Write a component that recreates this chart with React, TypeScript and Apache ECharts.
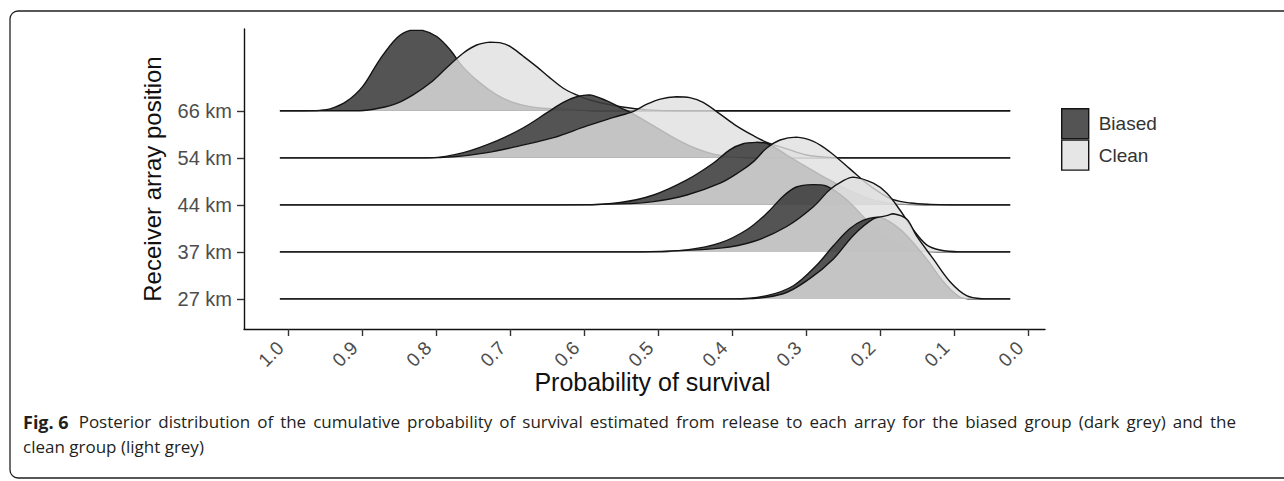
import React, { useEffect, useRef } from "react";
import * as echarts from "echarts";

// Rows (bottom to top) and groups
const rowNames = ["27 km", "37 km", "44 km", "54 km", "66 km"];
const groupNames = ["Biased", "Clean"];
const xTicks = [0.0, 0.1, 0.2, 0.3, 0.4, 0.5, 0.6, 0.7, 0.8, 0.9, 1.0];
const yTicks = [1, 2, 3, 4, 5];
const xAxisTitle = "Probability of survival";
const yAxisTitle = "Receiver array position";

// common density range (baseline line extent)
const lineStart = 1.011;
const lineEnd = 0.024;

// [probability of survival, scaled density]
const biased27 = [[0.399, 0], [0.353, 0.07], [0.317, 0.28], [0.286, 0.71], [0.263, 1.13], [0.241, 1.49], [0.223, 1.67], [0.204, 1.74], [0.196, 1.72], [0.18, 1.57], [0.164, 1.35], [0.137, 0.85], [0.114, 0.36], [0.092, 0.04], [0.072, 0]];
const clean27 = [[0.385, 0], [0.331, 0.11], [0.295, 0.43], [0.263, 0.85], [0.236, 1.35], [0.209, 1.7], [0.191, 1.77], [0.182, 1.81], [0.164, 1.7], [0.151, 1.35], [0.128, 0.85], [0.105, 0.36], [0.083, 0.07], [0.06, 0]];

const biased37 = [[0.507, 0], [0.461, 0.04], [0.416, 0.19], [0.38, 0.47], [0.353, 0.82], [0.331, 1.18], [0.313, 1.38], [0.29, 1.43], [0.272, 1.4], [0.245, 1.11], [0.218, 0.68], [0.191, 0.33], [0.164, 0.08], [0.137, 0.01], [0.112, 0]];
const clean37 = [[0.524, 0], [0.497, 0.01], [0.416, 0.08], [0.371, 0.22], [0.326, 0.54], [0.29, 0.96], [0.268, 1.32], [0.25, 1.51], [0.236, 1.59], [0.209, 1.46], [0.191, 1.25], [0.173, 0.89], [0.155, 0.47], [0.137, 0.15], [0.119, 0.04], [0.092, 0]];

const biased44 = [[0.605, 0], [0.551, 0.05], [0.506, 0.21], [0.461, 0.53], [0.425, 0.89], [0.403, 1.17], [0.385, 1.3], [0.367, 1.33], [0.353, 1.31], [0.326, 1.06], [0.304, 0.85], [0.281, 0.64], [0.261, 0.47], [0.241, 0.3], [0.218, 0.15], [0.191, 0.04], [0.166, 0.01], [0.139, 0]];
const clean44 = [[0.632, 0], [0.551, 0.02], [0.506, 0.07], [0.461, 0.21], [0.416, 0.46], [0.389, 0.71], [0.371, 0.92], [0.353, 1.21], [0.335, 1.38], [0.313, 1.44], [0.29, 1.35], [0.268, 1.13], [0.241, 0.77], [0.219, 0.47], [0.2, 0.26], [0.182, 0.11], [0.159, 0.04], [0.132, 0.01], [0.105, 0]];

const biased54 = [[0.808, 0], [0.763, 0.11], [0.718, 0.36], [0.682, 0.64], [0.65, 0.96], [0.628, 1.18], [0.61, 1.3], [0.592, 1.34], [0.569, 1.21], [0.551, 1.07], [0.533, 0.93], [0.506, 0.68], [0.479, 0.43], [0.452, 0.22], [0.425, 0.08], [0.398, 0.02], [0.362, 0]];
const clean54 = [[0.822, 0], [0.777, 0.02], [0.731, 0.11], [0.686, 0.26], [0.641, 0.43], [0.596, 0.68], [0.56, 0.86], [0.533, 0.99], [0.515, 1.14], [0.497, 1.25], [0.475, 1.3], [0.457, 1.28], [0.439, 1.18], [0.416, 0.93], [0.394, 0.68], [0.371, 0.47], [0.353, 0.33], [0.326, 0.19], [0.299, 0.06], [0.268, 0.01], [0.241, 0]];

const biased66 = [[0.985, 0], [0.957, 0.01], [0.943, 0.04], [0.921, 0.2], [0.899, 0.52], [0.876, 1.09], [0.853, 1.55], [0.835, 1.71], [0.818, 1.71], [0.799, 1.58], [0.781, 1.3], [0.764, 0.94], [0.741, 0.6], [0.718, 0.34], [0.696, 0.18], [0.673, 0.09], [0.65, 0.05], [0.628, 0.04], [0.582, 0]];
const clean66 = [[0.903, 0], [0.876, 0.06], [0.853, 0.16], [0.831, 0.34], [0.808, 0.59], [0.786, 0.91], [0.763, 1.23], [0.745, 1.4], [0.727, 1.46], [0.714, 1.45], [0.7, 1.37], [0.682, 1.16], [0.664, 0.94], [0.646, 0.7], [0.628, 0.48], [0.61, 0.34], [0.592, 0.23], [0.565, 0.13], [0.538, 0.06], [0.515, 0.02], [0.47, 0]];

const biasedRidges = [biased27, biased37, biased44, biased54, biased66];
const cleanRidges = [clean27, clean37, clean44, clean54, clean66];

const captionBold = "Fig. 6";
const captionLine1 =
  "Posterior distribution of the cumulative probability of survival estimated from release to each array for the biased group (dark grey) and the";
const captionLine2 = "clean group (light grey)";

const groupFills = ["rgba(60,60,60,0.88)", "rgba(224,224,224,0.8)"];
const outlineColor = "#141414";
const captionFont = "'Open Sans', 'Noto Sans', sans-serif";
const captionColor = "#231f20";
const captionSize = 17;
const captionBoldSize = 18;

function makeRenderItem(ridges: number[][][], gi: number) {
  return (params: any, api: any) => {
    const r = params.dataIndex;
    const base = r + 1;
    const raw = [[lineStart, 0], ...ridges[r], [lineEnd, 0]];
    const pts = raw.map((p) => api.coord([p[0], base + p[1]]));
    const order = (rowNames.length - 1 - r) * 4 + gi * 2;
    const constraint = [pts[0], pts[0]];
    return {
      type: "group",
      children: [
        {
          type: "polygon",
          z2: order,
          shape: { points: pts, smooth: 0.35, smoothConstraint: constraint },
          style: { fill: groupFills[gi], stroke: "none" },
        },
        {
          type: "polyline",
          z2: order + 1,
          shape: { points: pts, smooth: 0.35, smoothConstraint: constraint },
          style: { fill: "none", stroke: outlineColor, lineWidth: 1.4 },
        },
      ],
    };
  };
}

// justified first caption line (word positions computed from measured widths)
function justifiedCaption(x0: number, x1: number, y: number) {
  const canvas = document.createElement("canvas");
  const ctx = canvas.getContext("2d") as CanvasRenderingContext2D;
  const pieces: { text: string; bold: boolean }[] = [
    { text: captionBold, bold: true },
    ...captionLine1.split(" ").map((w) => ({ text: w, bold: false })),
  ];
  const widths = pieces.map((p) => {
    ctx.font = `${p.bold ? "bold " + captionBoldSize : captionSize}px ${captionFont}`;
    return ctx.measureText(p.text).width;
  });
  const total = widths.reduce((a, b) => a + b, 0);
  const gap = Math.max(3, (x1 - x0 - total) / (pieces.length - 1));
  let x = x0;
  return pieces.map((p, i) => {
    const el = {
      type: "text",
      x,
      y,
      silent: true,
      style: {
        text: p.text,
        fontFamily: captionFont,
        fontSize: p.bold ? captionBoldSize : captionSize,
        fontWeight: p.bold ? "bold" : "normal",
        fill: captionColor,
        textVerticalAlign: "middle",
        textAlign: "left",
      },
    };
    x += widths[i] + gap + (i === 0 ? 3 : 0);
    return el;
  });
}

export default function App() {
  const ref = useRef<HTMLDivElement>(null);

  useEffect(() => {
    if (!ref.current) return;
    const chart = echarts.init(ref.current, undefined, { renderer: "svg" });
    const labelFont = "'Liberation Sans', Arial, Helvetica, sans-serif";

    const option: any = {
      animation: false,
      backgroundColor: "#ffffff",
      grid: {
        left: 244,
        top: 29,
        width: 801,
        height: 300,
        containLabel: false,
        outerBoundsMode: "none",
      },
      legend: {
        orient: "vertical",
        left: 1061,
        top: 108,
        padding: 0,
        itemWidth: 27,
        itemHeight: 30,
        itemGap: 0,
        selectedMode: false,
        textStyle: { fontSize: 19, color: "#333333", fontFamily: labelFont, padding: [0, 0, 0, 5] },
        data: groupNames.map((n, i) => ({
          name: n,
          icon: "rect",
          itemStyle: { color: groupFills[i], borderColor: outlineColor, borderWidth: 1.4 },
        })),
      },
      xAxis: {
        type: "value",
        inverse: true,
        min: -0.023,
        max: 1.0595,
        name: xAxisTitle,
        nameLocation: "middle",
        nameGap: 40,
        nameMoveOverlap: false,
        nameTextStyle: {
          fontSize: 25,
          color: "#111111",
          fontFamily: labelFont,
          padding: [0, 0, 0, 16],
        },
        axisLine: { show: true, onZero: false, lineStyle: { color: "#111111", width: 1.4 } },
        axisTick: {
          show: true,
          length: 7,
          customValues: xTicks,
          lineStyle: { color: "#333333", width: 1.4 },
        },
        axisLabel: {
          customValues: xTicks,
          rotate: 45,
          margin: 8,
          padding: [0, 11, 0, 0],
          fontSize: 19,
          color: "#4d4d4d",
          fontFamily: labelFont,
          formatter: (v: number) => v.toFixed(1),
        },
        splitLine: { show: false },
      },
      yAxis: {
        type: "value",
        min: 0.36,
        max: 6.74,
        name: yAxisTitle,
        nameLocation: "middle",
        nameGap: 80,
        nameMoveOverlap: false,
        nameTextStyle: { fontSize: 24, color: "#111111", fontFamily: labelFont },
        axisLine: { show: true, onZero: false, lineStyle: { color: "#111111", width: 1.4 } },
        axisTick: {
          show: true,
          length: 7,
          customValues: yTicks,
          lineStyle: { color: "#333333", width: 1.4 },
        },
        axisLabel: {
          customValues: yTicks,
          margin: 12,
          fontSize: 20,
          color: "#4d4d4d",
          fontFamily: labelFont,
          formatter: (v: number) => rowNames[Math.round(v) - 1] ?? "",
        },
        splitLine: { show: false },
      },
      series: groupNames.map((g, gi) => ({
        type: "custom",
        name: g,
        coordinateSystem: "cartesian2d",
        itemStyle: { color: groupFills[gi] },
        renderItem: makeRenderItem(gi === 0 ? biasedRidges : cleanRidges, gi),
        data: rowNames.map((n, i) => ({ name: n, value: [lineStart, i + 1] })),
        clip: false,
        silent: true,
      })),
      graphic: [
        {
          type: "rect",
          silent: true,
          shape: { x: 10, y: 11, width: 1300, height: 467, r: 8 },
          style: { fill: "none", stroke: "#231f20", lineWidth: 1.3 },
        },
        ...justifiedCaption(23, 1233, 421.5),
        {
          type: "text",
          x: 23,
          y: 446.5,
          silent: true,
          style: {
            text: captionLine2,
            fontFamily: captionFont,
            fontSize: captionSize,
            fill: captionColor,
            textVerticalAlign: "middle",
            textAlign: "left",
          },
        },
      ],
    };

    chart.setOption(option);
    return () => chart.dispose();
  }, []);

  return (
    <div
      ref={ref}
      style={{ position: "absolute", left: 0, top: 0, width: 1284, height: 481 }}
    />
  );
}
